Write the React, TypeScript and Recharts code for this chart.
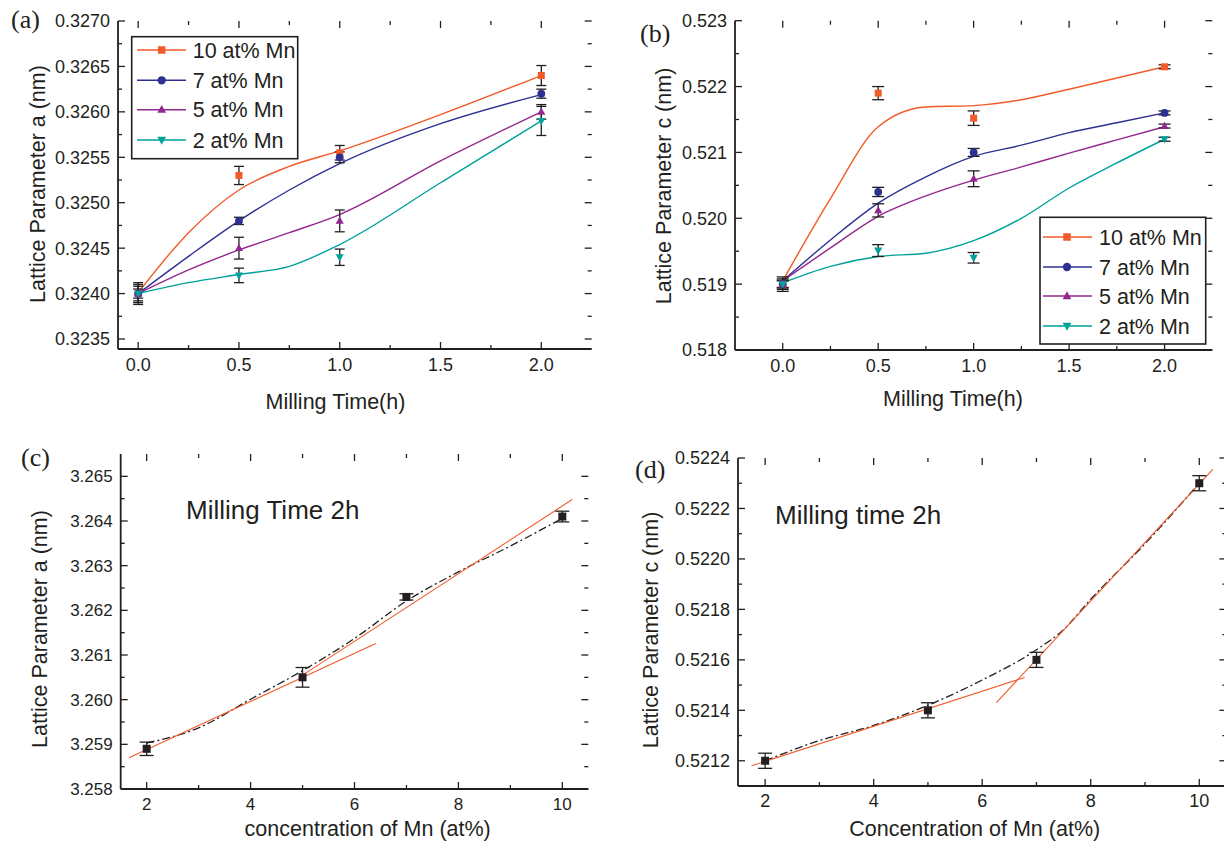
import { ComposedChart, Line, Scatter, XAxis, YAxis, ErrorBar } from 'recharts';

const INK = '#231f20';
const SANS = '"Liberation Sans", Arial, sans-serif';
const SERIF = '"Liberation Serif", "Times New Roman", serif';
const RED = '#f15a29';

// ---- (a) / (b): lattice parameters against milling time
const millingTime = [0, 0.5, 1, 2];
const mnLabels = ['10 at% Mn', '7 at% Mn', '5 at% Mn', '2 at% Mn'];
const mnColors = ['#f15a29', '#2e3192', '#92278f', '#00a19a'];
const mnShapes = ['square', 'circle', 'up', 'down'];

const aMn10 = [0.324, 0.3253, 0.32555, 0.3264];
const aMn7 = [0.324, 0.3248, 0.3255, 0.3262];
const aMn5 = [0.324, 0.3245, 0.3248, 0.326];
const aMn2 = [0.324, 0.3242, 0.3244, 0.3259];
const aErr10 = [0.00012, 0.0001, 0.00008, 0.00011];
const aErr7 = [0.0001, 0.00004, 0.00006, 0.00005];
const aErr5 = [0.00008, 0.00012, 0.00012, 0.00008];
const aErr2 = [0.00005, 0.00008, 0.00009, 0.00016];

// smoothed curves
const aFitTime = [0, 0.25, 0.5, 0.75, 1, 1.5, 2];
const aFit10 = [0.32401, 0.32467, 0.32514, 0.3254, 0.32557, 0.32597, 0.3264];
const aFit7 = [0.324, 0.32441, 0.3248, 0.32514, 0.32543, 0.32587, 0.32619];
const aFit5 = [0.324, 0.32426, 0.32448, 0.32467, 0.32487, 0.32546, 0.326];
const aFit2 = [0.324, 0.32412, 0.32421, 0.3243, 0.32454, 0.32522, 0.3259];

const cMn10 = [0.519, 0.5219, 0.52152, 0.5223];
const cMn7 = [0.519, 0.5204, 0.521, 0.5216];
const cMn5 = [0.519, 0.52012, 0.5206, 0.5214];
const cMn2 = [0.519, 0.51951, 0.5194, 0.5212];
const cErr10 = [0.00011, 0.0001, 0.00011, 0.00003];
const cErr7 = [0.00008, 0.00007, 0.00006, 0.00003];
const cErr5 = [0.00006, 0.0001, 0.00012, 0.00003];
const cErr2 = [0.00005, 0.00009, 0.00008, 0.00003];

// smoothed curves
const cFitTime = [0, 0.25, 0.5, 0.75, 1, 1.25, 1.5, 1.75, 2];
const cFit10 = [0.51905, 0.5203, 0.52139, 0.52169, 0.52171, 0.5218, 0.52196, 0.52213, 0.5223];
const cFit7 = [0.51905, 0.51967, 0.52023, 0.52063, 0.52094, 0.52111, 0.5213, 0.52145, 0.5216];
const cFit5 = [0.51905, 0.51955, 0.52003, 0.52034, 0.52058, 0.52078, 0.52099, 0.52119, 0.52139];
const cFit2 = [0.51902, 0.51927, 0.51942, 0.51947, 0.51966, 0.52, 0.52046, 0.52084, 0.5212];

// ---- (c) / (d): lattice parameters after 2 h against Mn content
const mnContent = [2, 5, 7, 10];
const latA2h = [3.2589, 3.2605, 3.2623, 3.2641];
const latAErr = [0.00015, 0.00022, 0.00007, 0.00012];
const latC2h = [0.5212, 0.5214, 0.5216, 0.5223];
const latCErr = [0.00003, 0.00003, 0.00003, 0.00003];

const trendAX = [2, 3, 4, 5, 6, 7, 8, 9, 10];
const trendA = [3.25903, 3.25937, 3.26001, 3.26065, 3.26137, 3.26221, 3.26286, 3.26344, 3.26406];
const lowAX = [1.66, 6.41];
const lowA = [3.2587, 3.26126];
const highAX = [5.0, 10.19];
const highA = [3.26055, 3.26448];

const trendCX = [2, 3, 4, 5, 6, 7, 7.5, 8, 9, 10];
const trendC = [0.5212, 0.52128, 0.52134, 0.52142, 0.52152, 0.52164, 0.52172, 0.52184, 0.52206, 0.5223];
const lowCX = [1.75, 6.78];
const lowC = [0.52118, 0.52153];
const highCX = [6.26, 10.25];
const highC = [0.52143, 0.522355];

// axis ticks
const timeMajor = [0, 0.5, 1, 1.5, 2];
const timeMinor = [0.25, 0.75, 1.25, 1.75];
const aMajor = [0.3235, 0.324, 0.3245, 0.325, 0.3255, 0.326, 0.3265, 0.327];
const aMinor = [0.32375, 0.32425, 0.32475, 0.32525, 0.32575, 0.32625, 0.32675];
const cMajor = [0.518, 0.519, 0.52, 0.521, 0.522, 0.523];
const cMinor = [0.5185, 0.5195, 0.5205, 0.5215, 0.5225];
const mnMajor = [2, 4, 6, 8, 10];
const mnMinor = [3, 5, 7, 9];
const a2hMajor = [3.258, 3.259, 3.26, 3.261, 3.262, 3.263, 3.264, 3.265];
const a2hMinor = [3.2585, 3.2595, 3.2605, 3.2615, 3.2625, 3.2635, 3.2645];
const c2hMajor = [0.5212, 0.5214, 0.5216, 0.5218, 0.522, 0.5222, 0.5224];
const c2hMinor = [0.5213, 0.5215, 0.5217, 0.5219, 0.5221, 0.5223];

const pts = (xs: number[], ys: number[], es?: number[]) =>
  xs.map((x, i) => ({ x, y: ys[i], err: es ? es[i] : 0 }));

const aSeries = [
  { pts: pts(millingTime, aMn10, aErr10), fit: pts(aFitTime, aFit10) },
  { pts: pts(millingTime, aMn7, aErr7), fit: pts(aFitTime, aFit7) },
  { pts: pts(millingTime, aMn5, aErr5), fit: pts(aFitTime, aFit5) },
  { pts: pts(millingTime, aMn2, aErr2), fit: pts(aFitTime, aFit2) },
];
const cSeries = [
  { pts: pts(millingTime, cMn10, cErr10), fit: pts(cFitTime, cFit10) },
  { pts: pts(millingTime, cMn7, cErr7), fit: pts(cFitTime, cFit7) },
  { pts: pts(millingTime, cMn5, cErr5), fit: pts(cFitTime, cFit5) },
  { pts: pts(millingTime, cMn2, cErr2), fit: pts(cFitTime, cFit2) },
];

function marker(shape: string, cx: number, cy: number, color: string, s: number) {
  if (shape === 'square') return <rect x={cx - s / 2} y={cy - s / 2} width={s} height={s} fill={color} />;
  if (shape === 'circle') return <circle cx={cx} cy={cy} r={s / 2 + 0.4} fill={color} />;
  if (shape === 'up')
    return <polygon points={`${cx},${cy - s * 0.62} ${cx + s * 0.58},${cy + s * 0.42} ${cx - s * 0.58},${cy + s * 0.42}`} fill={color} />;
  return <polygon points={`${cx},${cy + s * 0.62} ${cx + s * 0.58},${cy - s * 0.42} ${cx - s * 0.58},${cy - s * 0.42}`} fill={color} />;
}

// inward ticks on the bottom/left axis, mirrored onto the top/right side of the frame
function makeTick(side: 'bottom' | 'left', majors: number[], fmt: (v: number) => string, span: number, fontSize: number, gap: number) {
  return (props: any) => {
    const { x, y, payload } = props;
    const v = Number(payload?.value);
    const major = majors.some((m) => Math.abs(m - v) < 1e-9);
    const len = major ? 7 : 4;
    if (side === 'bottom') {
      return (
        <g>
          <line x1={x} y1={y} x2={x} y2={y - len} stroke={INK} strokeWidth={1.3} />
          <line x1={x} y1={y - span} x2={x} y2={y - span + len} stroke={INK} strokeWidth={1.3} />
          {major && (
            <text x={x} y={y + gap} textAnchor="middle" fontSize={fontSize} fontFamily={SANS} fill={INK}>
              {fmt(v)}
            </text>
          )}
        </g>
      );
    }
    return (
      <g>
        <line x1={x} y1={y} x2={x + len} y2={y} stroke={INK} strokeWidth={1.3} />
        <line x1={x + span} y1={y} x2={x + span - len} y2={y} stroke={INK} strokeWidth={1.3} />
        {major && (
          <text x={x - gap} y={y + fontSize * 0.36} textAnchor="end" fontSize={fontSize} fontFamily={SANS} fill={INK}>
            {fmt(v)}
          </text>
        )}
      </g>
    );
  };
}

type Scale = { domain: [number, number]; majors: number[]; minors: number[]; fmt: (v: number) => string };
type Box = { left: number; top: number; w: number; h: number };
type Plot = { l: number; t: number; r: number; b: number };

const axisLine = { stroke: INK, strokeWidth: 1.8 };

function frameAxes(xs: Scale, ys: Scale, box: Box, plot: Plot, fontSize: number, xGap: number, yGap: number) {
  const xt = [...xs.majors, ...xs.minors].sort((p, q) => p - q);
  const yt = [...ys.majors, ...ys.minors].sort((p, q) => p - q);
  return [
    <XAxis key="xb" xAxisId="b" type="number" dataKey="x" domain={xs.domain} allowDataOverflow ticks={xt} interval={0}
      height={30} tickSize={0} tickMargin={0} tickLine={false} axisLine={axisLine}
      tick={makeTick('bottom', xs.majors, xs.fmt, plot.b - plot.t, fontSize, xGap)} />,
    <XAxis key="xt" xAxisId="t" orientation="top" type="number" dataKey="x" domain={xs.domain} allowDataOverflow
      height={0} tick={false} tickLine={false} axisLine={axisLine} />,
    <YAxis key="yl" yAxisId="l" type="number" dataKey="y" domain={ys.domain} allowDataOverflow ticks={yt} interval={0}
      width={plot.l - box.left} tickSize={0} tickMargin={0} tickLine={false} axisLine={axisLine}
      tick={makeTick('left', ys.majors, ys.fmt, plot.r - plot.l, fontSize, yGap)} />,
    <YAxis key="yr" yAxisId="r" orientation="right" type="number" dataKey="y" domain={ys.domain} allowDataOverflow
      width={0} tick={false} tickLine={false} axisLine={axisLine} />,
  ];
}

function panelMargin(box: Box, plot: Plot) {
  return { left: 0, top: plot.t - box.top, right: box.left + box.w - plot.r, bottom: box.top + box.h - plot.b - 30 };
}

function TimePanel({ box, plot, xs, ys, series, errW, mSize }: {
  box: Box; plot: Plot; xs: Scale; ys: Scale; series: typeof aSeries; errW: number; mSize: number;
}) {
  return (
    <div style={{ position: 'absolute', left: box.left, top: box.top }}>
      <ComposedChart width={box.w} height={box.h} margin={panelMargin(box, plot)}>
        {frameAxes(xs, ys, box, plot, 18, 22, 8)}
        {series.map((s, i) => (
          <Line key={`f${i}`} xAxisId="b" yAxisId="l" data={s.fit} dataKey="y" type="monotone" stroke={mnColors[i]}
            strokeWidth={1.4} dot={false} isAnimationActive={false} />
        ))}
        {series.map((s, i) => (
          <Scatter key={`s${i}`} xAxisId="b" yAxisId="l" data={s.pts} isAnimationActive={false}
            shape={(p: any) => marker(mnShapes[i], p.cx, p.cy, mnColors[i], mSize)}>
            <ErrorBar dataKey="err" direction="y" width={errW} stroke={INK} strokeWidth={1.3} />
          </Scatter>
        ))}
      </ComposedChart>
    </div>
  );
}

function MnPanel({ box, plot, xs, ys, data, trend, low, high, fontSize }: {
  box: Box; plot: Plot; xs: Scale; ys: Scale; data: any[]; trend: any[]; low: any[]; high: any[]; fontSize: number;
}) {
  return (
    <div style={{ position: 'absolute', left: box.left, top: box.top }}>
      <ComposedChart width={box.w} height={box.h} margin={panelMargin(box, plot)}>
        {frameAxes(xs, ys, box, plot, fontSize, 21, 8)}
        <Line xAxisId="b" yAxisId="l" data={trend} dataKey="y" type="monotone" stroke={INK} strokeWidth={1.3}
          strokeDasharray="8 3 2 3" dot={false} isAnimationActive={false} />
        <Line xAxisId="b" yAxisId="l" data={low} dataKey="y" type="linear" stroke={RED} strokeWidth={1.1}
          dot={false} isAnimationActive={false} />
        <Line xAxisId="b" yAxisId="l" data={high} dataKey="y" type="linear" stroke={RED} strokeWidth={1.1}
          dot={false} isAnimationActive={false} />
        <Scatter xAxisId="b" yAxisId="l" data={data} isAnimationActive={false}
          shape={(p: any) => marker('square', p.cx, p.cy, INK, 8)}>
          <ErrorBar dataKey="err" direction="y" width={7} stroke={INK} strokeWidth={1.3} />
        </Scatter>
      </ComposedChart>
    </div>
  );
}

function LegendBox({ x, y, w, h, rows, x0, x1, mx, tx }: {
  x: number; y: number; w: number; h: number; rows: number[]; x0: number; x1: number; mx: number; tx: number;
}) {
  return (
    <g>
      <rect x={x} y={y} width={w} height={h} fill="#fff" stroke={INK} strokeWidth={1.6} />
      {mnLabels.map((name, i) => (
        <g key={name}>
          <line x1={x0} y1={rows[i]} x2={x1} y2={rows[i]} stroke={mnColors[i]} strokeWidth={1.4} />
          {marker(mnShapes[i], mx, rows[i], mnColors[i], 7.5)}
          <text x={tx} y={rows[i] + 7.6} fontSize={21.5} fontFamily={SANS} fill={INK}>{name}</text>
        </g>
      ))}
    </g>
  );
}

const titleStyle = { fontFamily: SANS, fontSize: 21.5, fill: INK } as const;

export default function App() {
  const f1 = (v: number) => v.toFixed(1);
  const f3 = (v: number) => v.toFixed(3);
  const f4 = (v: number) => v.toFixed(4);
  const f0 = (v: number) => v.toFixed(0);
  return (
    <div style={{ position: 'fixed', left: 0, top: 0, width: 1224, height: 842, overflow: 'hidden', background: '#fff' }}>
      <TimePanel
        box={{ left: 0, top: 0, w: 620, h: 420 }}
        plot={{ l: 118, t: 21, r: 591.7, b: 349 }}
        xs={{ domain: [-0.1, 2.25], majors: timeMajor, minors: timeMinor, fmt: f1 }}
        ys={{ domain: [0.32339, 0.327], majors: aMajor, minors: aMinor, fmt: f4 }}
        series={aSeries} errW={5} mSize={7}
      />
      <TimePanel
        box={{ left: 600, top: 0, w: 624, h: 420 }}
        plot={{ l: 735, t: 20.7, r: 1212.3, b: 350 }}
        xs={{ domain: [-0.25, 2.25], majors: timeMajor, minors: timeMinor, fmt: f1 }}
        ys={{ domain: [0.518, 0.523], majors: cMajor, minors: cMinor, fmt: f3 }}
        series={cSeries} errW={6} mSize={7}
      />
      <MnPanel
        box={{ left: 0, top: 430, w: 620, h: 412 }}
        plot={{ l: 120.7, t: 454, r: 588.3, b: 789 }}
        xs={{ domain: [1.5, 10.5], majors: mnMajor, minors: mnMinor, fmt: f0 }}
        ys={{ domain: [3.258, 3.2655], majors: a2hMajor, minors: a2hMinor, fmt: f3 }}
        data={pts(mnContent, latA2h, latAErr)} trend={pts(trendAX, trendA)} low={pts(lowAX, lowA)} high={pts(highAX, highA)}
        fontSize={17}
      />
      <MnPanel
        box={{ left: 620, top: 430, w: 620, h: 412 }}
        plot={{ l: 738, t: 458, r: 1226.4, b: 786 }}
        xs={{ domain: [1.5, 10.5], majors: mnMajor, minors: mnMinor, fmt: f0 }}
        ys={{ domain: [0.5211, 0.5224], majors: c2hMajor, minors: c2hMinor, fmt: f4 }}
        data={pts(mnContent, latC2h, latCErr)} trend={pts(trendCX, trendC)} low={pts(lowCX, lowC)} high={pts(highCX, highC)}
        fontSize={18}
      />
      <svg width={1224} height={842} style={{ position: 'absolute', left: 0, top: 0, pointerEvents: 'none' }}>
        <text x={11} y={28} fontFamily={SERIF} fontSize={26} fill={INK}>(a)</text>
        <text x={640} y={42} fontFamily={SERIF} fontSize={26} fill={INK}>(b)</text>
        <text x={21} y={465.5} fontFamily={SERIF} fontSize={26} fill={INK}>(c)</text>
        <text x={635} y={477.5} fontFamily={SERIF} fontSize={26} fill={INK}>(d)</text>

        <text {...titleStyle} textAnchor="middle" transform="translate(45,184) rotate(-90)">Lattice Parameter a (nm)</text>
        <text {...titleStyle} textAnchor="middle" transform="translate(671,186) rotate(-90)">Lattice Parameter c (nm)</text>
        <text {...titleStyle} textAnchor="middle" transform="translate(46.7,629) rotate(-90)">Lattice Parameter a (nm)</text>
        <text {...titleStyle} textAnchor="middle" transform="translate(657.7,630) rotate(-90)">Lattice Parameter c (nm)</text>

        <text {...titleStyle} x={335.5} y={409} textAnchor="middle">Milling Time(h)</text>
        <text {...titleStyle} x={953} y={406} textAnchor="middle">Milling Time(h)</text>
        <text {...titleStyle} x={367.7} y={836} textAnchor="middle">concentration of Mn (at%)</text>
        <text {...titleStyle} x={974.7} y={836} textAnchor="middle">Concentration of Mn (at%)</text>

        <text x={186} y={519.3} fontFamily={SANS} fontSize={26} fill={INK}>Milling Time 2h</text>
        <text x={775} y={524.3} fontFamily={SANS} fontSize={26} fill={INK}>Milling time 2h</text>

        <LegendBox x={131.7} y={36.7} w={166} h={122} rows={[50, 80.3, 109.7, 140]} x0={137} x1={186} mx={161.7} tx={192.7} />
        <LegendBox x={1040} y={217.3} w={165.7} h={126.7} rows={[237, 267, 296, 326]} x0={1043} x1={1092} mx={1067} tx={1099} />
      </svg>
    </div>
  );
}
